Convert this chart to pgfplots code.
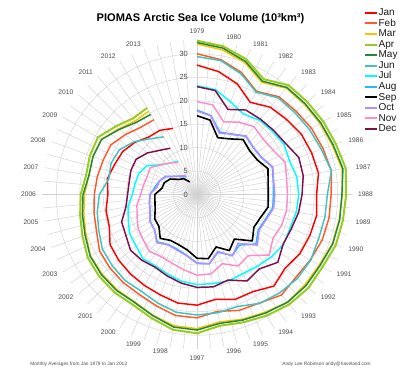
\documentclass[border=0pt]{standalone}
\usepackage{fontspec}
\setmainfont{Liberation Sans}
\usepackage{pgfplots}
\usepackage{pgfplotstable}
\pgfplotsset{compat=1.18}
\definecolor{cJan}{HTML}{FF0000}
\definecolor{cFeb}{HTML}{FF5A28}
\definecolor{cMar}{HTML}{FFC000}
\definecolor{cApr}{HTML}{99CC22}
\definecolor{cMay}{HTML}{1F8A3A}
\definecolor{cJun}{HTML}{40C4C0}
\definecolor{cJul}{HTML}{00FFFF}
\definecolor{cAug}{HTML}{22BBFF}
\definecolor{cSep}{HTML}{000000}
\definecolor{cOct}{HTML}{B98CFF}
\definecolor{cNov}{HTML}{FF8CC8}
\definecolor{cDec}{HTML}{7F0F4A}
\definecolor{lab}{HTML}{4D4D4D}
\definecolor{grd}{HTML}{D2D2D2}

% k = year - 1979 ; values in 10^3 km^3
\pgfplotstableread{
k  Jan  Feb  Mar  Apr  May  Jun  Jul  Aug  Sep  Oct  Nov  Dec
0  27.6 30.0 32.1 32.8 32.4 29.4 23.2 18.0 16.8 17.8 19.8 23.0
1  26.6 29.2 31.3 32.1 31.7 29.0 22.7 17.1 16.1 17.0 19.4 22.5
2  25.1 27.7 29.9 30.7 30.2 27.4 21.0 14.2 12.9 13.9 16.5 19.3
3  22.7 25.4 27.6 28.4 27.9 25.2 19.8 14.8 13.7 14.9 17.8 20.8
4  24.3 27.2 29.6 30.4 29.8 26.9 20.7 16.2 15.3 16.3 18.9 21.0
5  24.9 27.6 29.9 30.7 30.1 27.2 21.0 15.6 14.6 15.7 18.4 21.3
6  25.7 28.2 30.3 31.1 30.5 27.7 21.4 15.8 14.8 15.9 18.8 21.8
7  26.0 28.6 30.7 31.5 30.9 28.2 21.0 17.1 16.1 17.2 20.0 23.1
8  26.3 29.1 31.4 32.2 31.6 29.1 21.6 16.5 15.4 16.6 19.4 23.0
9  25.5 28.6 31.0 31.8 30.9 27.8 21.7 16.3 15.2 16.6 19.3 22.4
10 25.9 28.6 30.8 31.6 30.9 27.7 21.5 16.4 15.4 16.6 19.4 22.0
11 25.6 28.4 30.7 31.5 30.8 27.6 21.1 15.5 14.4 15.7 19.2 21.4
12 25.3 27.9 30.1 30.9 30.3 28.0 21.3 15.1 14.0 15.3 18.7 21.2
13 24.5 27.5 30.0 31.0 30.3 27.9 20.7 16.4 15.4 16.8 20.1 22.5
14 25.5 28.0 30.0 30.6 30.0 27.4 20.0 14.1 12.4 13.6 17.0 20.7
15 23.9 26.7 29.0 29.8 29.2 26.8 19.5 15.0 13.8 15.1 17.6 21.3
16 23.8 26.3 28.3 29.0 28.5 25.4 19.6 13.1 11.9 12.9 15.7 19.4
17 22.7 25.3 27.6 28.4 27.9 25.6 19.3 15.0 13.9 15.0 17.2 20.0
18 23.6 26.3 28.6 29.6 28.9 25.7 19.2 14.6 13.6 14.7 17.2 19.8
19 23.5 26.2 28.4 29.3 28.7 25.5 18.8 13.1 12.0 13.2 16.3 19.2
20 22.8 25.3 27.4 28.1 27.5 24.6 18.1 12.4 11.4 12.6 15.6 18.5
21 22.4 24.6 26.5 27.2 26.6 23.8 17.6 12.3 11.3 12.4 15.3 17.9
22 22.1 24.5 26.5 27.3 26.7 23.9 17.9 13.2 12.2 13.4 15.8 18.3
23 21.8 24.3 26.4 27.2 26.6 23.6 17.0 11.8 10.6 11.8 15.0 18.5
24 21.4 24.0 26.2 26.9 26.3 23.3 16.6 11.5 10.4 11.6 14.5 17.5
25 19.9 22.8 25.2 26.0 25.4 22.3 15.6 10.6 9.5  10.7 13.6 17.1
26 19.7 22.3 24.5 25.3 24.8 21.6 14.9 10.3 9.1  10.3 13.0 15.4
27 19.0 21.9 24.0 24.8 24.3 20.8 13.8 10.0 9.0  10.1 12.0 14.8
28 19.4 21.6 23.4 24.0 23.4 19.1 13.4 9.1  7.6  8.7  11.6 14.7
29 18.7 21.3 23.6 24.3 23.6 19.5 13.2 8.5  7.4  8.5  11.3 15.0
30 18.3 21.2 23.5 24.4 23.5 19.1 12.3 7.6  6.6  7.8  11.5 15.0
31 17.3 19.9 21.8 22.6 21.6 17.5 9.9  6.0  5.0  6.0  9.9  13.8
32 16.0 18.7 20.5 21.2 20.1 15.5 8.8  5.0  4.4  5.2  8.8  12.3
33 15.8 18.4 20.5 21.3 19.7 14.2 8.2  4.4  3.1  4.6  7.9  11.4
34 15.0 nan  nan  nan  nan  nan  nan  nan  nan  nan  nan  nan
}\piomas

\newcommand{\mplot}[2]{%
  \addplot[#2, line join=round] table[
    x expr={\thisrow{#1}*sin(10*\thisrow{k})},
    y expr={\thisrow{#1}*cos(10*\thisrow{k})}] {\piomas};
  \addlegendentry{#1}}

\begin{document}
\begin{tikzpicture}
\path[use as bounding box] (0,0) rectangle (300pt,281.25pt);
\begin{scope}[shift={(147.75pt,135.375pt)}, x=3.5175pt, y=3.5175pt]
  \foreach \a in {0,5,...,355}
    \draw[grd, line width=0.35pt] (0,0) -- ({33*sin(\a)},{33*cos(\a)});
  \foreach \r in {5,10,...,30}
    \draw[grd, line width=0.35pt] (0,0) circle[radius=\r*3.5175pt];
  \foreach \k in {0,...,34}{%
    \pgfmathtruncatemacro{\yr}{1979+\k}%
    \pgfmathtruncatemacro{\ang}{10*\k}%
    \ifnum\ang=0 \def\anc{south}\else\ifnum\ang=180 \def\anc{north}\else\ifnum\ang<180 \def\anc{west}\else\def\anc{east}\fi\fi\fi
    \node[anchor=\anc, inner sep=1pt, text=lab, font=\fontsize{5}{6}\selectfont]
      at ({34*sin(\ang)},{34*cos(\ang)}) {\yr};
  }
  \foreach \v in {0,5,...,30}
    \node[anchor=east, inner sep=1pt, text=lab, font=\fontsize{5.6}{6}\selectfont]
      at (-1.6,\v) {\v};
\end{scope}

\begin{axis}[
  at={(147.75pt,135.375pt)}, anchor=center,
  x=3.5175pt, y=3.5175pt,
  xmin=-36, xmax=36, ymin=-36, ymax=36,
  axis lines=none, ticks=none, clip=false,
  every axis plot/.append style={line width=1.1pt},
  legend cell align=left,
  legend image code/.code={\draw[#1, line width=1.5pt] (0pt,0pt) -- (9pt,0pt);},
  legend style={at={(axis cs:35.6,39.9)}, anchor=north west, draw=none, fill=none,
    inner sep=0pt, row sep=0pt,
    font=\fontsize{7.5}{7.5}\selectfont,
    nodes={inner sep=0.3pt, text height=5.8pt, text depth=1.5pt, text=black!90},
    /tikz/every even column/.append style={column sep=1pt}},
]
\mplot{Jan}{cJan}
\mplot{Feb}{cFeb}
\mplot{Mar}{cMar}
\mplot{Apr}{cApr, line width=1.5pt}
\mplot{May}{cMay}
\mplot{Jun}{cJun}
\mplot{Jul}{cJul}
\mplot{Aug}{cAug}
\mplot{Sep}{cSep, line width=1.2pt}
\mplot{Oct}{cOct}
\mplot{Nov}{cNov}
\mplot{Dec}{cDec}
\end{axis}

\node[anchor=base, font=\bfseries\fontsize{8.3}{10}\selectfont] at (150.4pt,265pt)
  {PIOMAS Arctic Sea Ice Volume (10³km³)};
\node[anchor=base west, inner sep=0pt, text=lab, font=\fontsize{3.6}{4}\selectfont] at (22.5pt,6.75pt)
  {Monthly Averages from Jan 1979 to Jan 2013};
\node[anchor=base east, inner sep=0pt, text=lab, font=\fontsize{3.6}{4}\selectfont] at (278.25pt,6.75pt)
  {Andy Lee Robinson andy@haveland.com};
\end{tikzpicture}
\end{document}
